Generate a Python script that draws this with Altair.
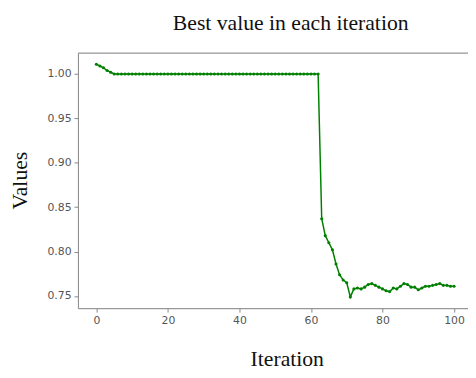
import altair as alt
import pandas as pd

iterations = list(range(0, 101))
head_values = [1.011, 1.009, 1.007, 1.004, 1.002]
flat_values = [1.000] * 58  # iterations 5..62
tail_values = [0.837, 0.818, 0.810, 0.802, 0.786, 0.774, 0.768, 0.765, 0.749, 0.758,
               0.759, 0.758, 0.760, 0.763, 0.764, 0.762, 0.760, 0.758, 0.756, 0.755,
               0.759, 0.758, 0.761, 0.764, 0.763, 0.760, 0.760, 0.757, 0.759, 0.761,
               0.761, 0.762, 0.763, 0.764, 0.762, 0.762, 0.761, 0.761]
values = head_values + flat_values + tail_values

x_ticks = [0, 20, 40, 60, 80, 100]
y_ticks = [0.75, 0.80, 0.85, 0.90, 0.95, 1.00]

df = pd.DataFrame({"Iteration": iterations, "Values": values})

W, H = 396, 259
serif = "Liberation Serif"
sans = "DejaVu Sans"

x_axis = alt.Axis(values=x_ticks, title="Iteration", titleFont=serif, titleFontSize=22,
                  titleFontWeight="normal", titleColor="#111", titleX=212, titleY=58,
                  titleBaseline="alphabetic", titleAnchor="start", titleAlign="center",
                  labelFont=sans, labelFontSize=11, labelColor="#555", labelPadding=3,
                  tickSize=4, tickColor="#888", domainColor="#888", grid=False)
y_axis = alt.Axis(values=y_ticks, format=".2f", title="Values", titleFont=serif,
                  titleFontSize=22, titleFontWeight="normal", titleColor="#111",
                  titleAngle=-90, titleX=-52, titleY=129, titleBaseline="alphabetic",
                  titleAlign="center", labelFont=sans, labelFontSize=11, labelColor="#555",
                  labelPadding=3, tickSize=4, tickColor="#888", domainColor="#888", grid=False)

base = alt.Chart(df).encode(
    x=alt.X("Iteration:Q", scale=alt.Scale(domain=[-5.15, 103.9], nice=False, zero=False), axis=x_axis),
    y=alt.Y("Values:Q", scale=alt.Scale(domain=[0.7363, 1.0236], nice=False, zero=False), axis=y_axis),
)
line = base.mark_line(color="#008000", strokeWidth=1.5)
pts = base.mark_point(color="#008000", filled=True, size=10, opacity=1)

top = alt.Chart(pd.DataFrame({"a": [0]})).mark_rule(color="#888", strokeWidth=1).encode(
    x=alt.value(0), x2=alt.value(W), y=alt.value(0)
)

chart = alt.layer(line, pts, top).properties(
    width=W, height=H,
    title=alt.TitleParams("Best value in each iteration", font=serif, fontSize=22,
                          fontWeight="normal", color="#111", anchor="middle", dx=18,
                          offset=18),
    padding={"left": 71, "top": 43, "right": 0, "bottom": 60},
    autosize=alt.AutoSizeParams(type="none"),
).configure_view(stroke=None).configure(background="white")

chart.save("out.html", embed_options={"renderer": "svg", "actions": False})
